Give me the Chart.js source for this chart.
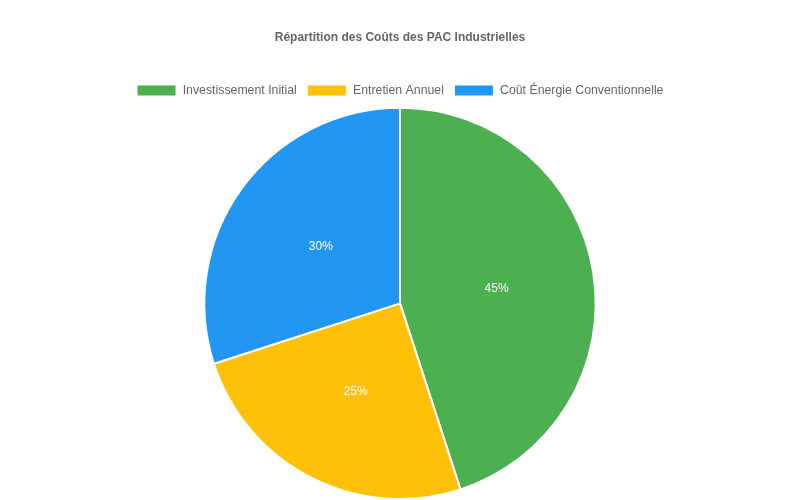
<!DOCTYPE html>
<html>
<head>
<meta charset="utf-8">
<script src="https://cdn.jsdelivr.net/npm/chart.js@4"></script>
<style>
  body { margin: 0; background: #fff; }
  #wrap { width: 800px; height: 500px; }
</style>
</head>
<body>
<div id="wrap"><canvas id="myChart"></canvas></div>
<script>
const labels = ['Investissement Initial', 'Entretien Annuel', 'Coût Énergie Conventionnelle'];
const values = [45, 25, 30];
const colors = ['#4CAF50', '#FFC107', '#2196F3'];

// draws the percentage in the middle of each slice
const sliceLabels = {
    id: 'sliceLabels',
    afterDatasetsDraw(chart) {
        const ctx = chart.ctx;
        const meta = chart.getDatasetMeta(0);
        const total = values.reduce((a, b) => a + b, 0);
        ctx.save();
        ctx.fillStyle = '#fff';
        ctx.font = '12px "Liberation Sans", Arial, sans-serif';
        ctx.textAlign = 'center';
        ctx.textBaseline = 'middle';
        meta.data.forEach((arc, i) => {
            const p = arc.tooltipPosition();
            ctx.fillText(Math.round(values[i] / total * 100) + '%', p.x, p.y + 1);
        });
        ctx.restore();
    }
};

Chart.defaults.font.family = '"Liberation Sans", Arial, sans-serif';
Chart.defaults.color = '#666';

var ctx = document.getElementById('myChart').getContext('2d');
var chart = new Chart(ctx, {
    type: 'pie',
    data: {
        labels: labels,
        datasets: [{
            data: values,
            backgroundColor: colors,
            borderColor: '#fff',
            borderWidth: 2
        }]
    },
    options: {
        responsive: true,
        maintainAspectRatio: false,
        animation: false,
        plugins: {
            title: {
                display: true,
                text: 'Répartition des Coûts des PAC Industrielles',
                font: { size: 12, weight: 'bold' },
                color: '#666',
                padding: { top: 30, bottom: 30 }
            },
            legend: {
                position: 'top',
                labels: { font: { size: 12.3 }, color: '#666', boxWidth: 40, boxHeight: 12 }
            },
            tooltip: { enabled: false }
        }
    },
    plugins: [sliceLabels]
});
</script>
</body>
</html>
